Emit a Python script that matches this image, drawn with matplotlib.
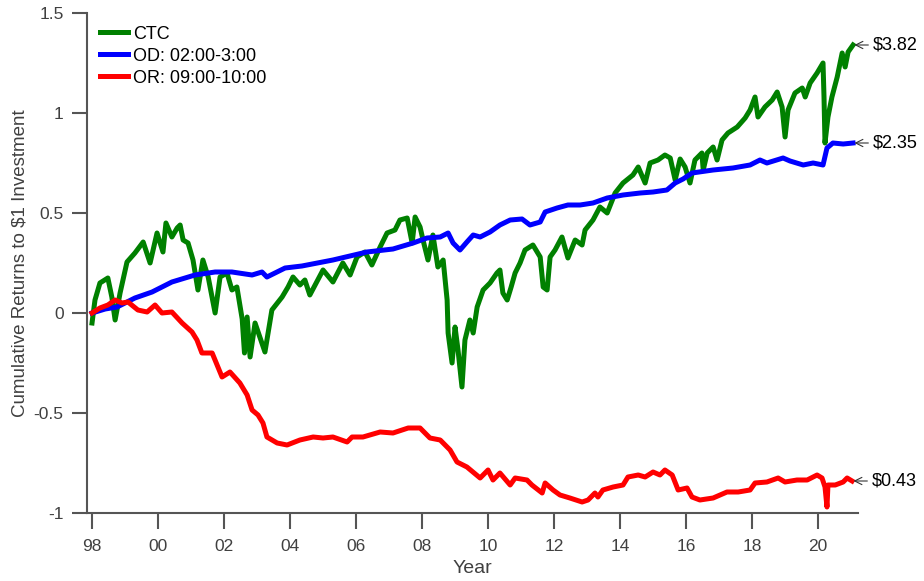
import numpy as np
import matplotlib
matplotlib.use("Agg")
import matplotlib.pyplot as plt

plt.rcParams['font.family'] = ['Liberation Sans', 'DejaVu Sans']

# CTC cumulative returns (year, value)
ctc_year = [1998.0, 1998.09, 1998.24, 1998.48, 1998.6, 1998.7, 1998.85, 1999.06, 1999.3, 1999.55,
            1999.76, 1999.97, 2000.15, 2000.24, 2000.42, 2000.58, 2000.67, 2000.76, 2000.91, 2001.06,
            2001.21, 2001.36, 2001.52, 2001.73, 2001.88, 2002.09, 2002.24, 2002.39, 2002.55, 2002.62,
            2002.7, 2002.79, 2002.94, 2003.24, 2003.45,
            2003.76, 2003.94, 2004.09, 2004.3, 2004.45, 2004.6, 2005.0, 2005.3, 2005.6, 2005.82,
            2006.03, 2006.27, 2006.48, 2006.73, 2006.94, 2007.18, 2007.33, 2007.55, 2007.7, 2007.79,
            2007.94, 2008.03, 2008.18, 2008.33, 2008.48, 2008.64, 2008.76, 2008.79, 2008.91, 2009.0,
            2009.09, 2009.21, 2009.3, 2009.45, 2009.55, 2009.67, 2009.85, 2010.06, 2010.27, 2010.36,
            2010.45, 2010.58, 2010.7, 2010.82, 2010.97, 2011.12, 2011.36, 2011.58, 2011.67, 2011.79,
            2011.88, 2012.03, 2012.24, 2012.42, 2012.64, 2012.85, 2012.94, 2013.18, 2013.39, 2013.61,
            2013.85, 2014.09, 2014.39, 2014.55, 2014.76, 2014.91, 2015.15, 2015.36, 2015.52, 2015.67,
            2015.82, 2015.97, 2016.12, 2016.27, 2016.48, 2016.52, 2016.64, 2016.82, 2016.94, 2017.09,
            2017.27, 2017.55, 2017.79, 2017.94, 2018.09, 2018.18, 2018.39, 2018.61, 2018.76, 2018.91,
            2019.0, 2019.09, 2019.3, 2019.52, 2019.61, 2019.76, 2019.97, 2020.15, 2020.18, 2020.21,
            2020.3, 2020.42, 2020.58, 2020.73, 2020.82, 2020.91, 2021.06]
ctc_val = [-0.05, 0.065, 0.15, 0.175, 0.08, -0.035, 0.10, 0.255, 0.30, 0.355,
           0.25, 0.40, 0.305, 0.45, 0.38, 0.425, 0.44, 0.365, 0.35, 0.265,
           0.115, 0.265, 0.18, 0.0, 0.18, 0.20, 0.115, 0.13, -0.03, -0.20,
           -0.02, -0.22, -0.05, -0.195, 0.015,
           0.08, 0.13, 0.18, 0.14, 0.165, 0.09, 0.215, 0.155, 0.25, 0.19,
           0.28, 0.305, 0.24, 0.33, 0.40, 0.415, 0.465, 0.475, 0.35, 0.48,
           0.43, 0.365, 0.265, 0.39, 0.23, 0.265, 0.065, -0.10, -0.25, -0.07,
           -0.185, -0.37, -0.135, -0.035, -0.10, 0.03, 0.115, 0.15, 0.20, 0.215,
           0.10, 0.065, 0.13, 0.20, 0.25, 0.315, 0.34, 0.28, 0.13, 0.115,
           0.28, 0.315, 0.38, 0.275, 0.365, 0.34, 0.415, 0.465, 0.53, 0.50,
           0.60, 0.65, 0.69, 0.73, 0.65, 0.75, 0.765, 0.79, 0.775, 0.665,
           0.77, 0.73, 0.65, 0.765, 0.80, 0.715, 0.80, 0.83, 0.765, 0.865,
           0.90, 0.93, 0.975, 1.015, 1.08, 0.98, 1.03, 1.065, 1.105, 1.03,
           0.88, 1.015, 1.10, 1.125, 1.08, 1.15, 1.20, 1.25, 1.08, 0.85,
           0.98, 1.08, 1.18, 1.30, 1.23, 1.305, 1.34]

# OD: 02:00-3:00
od_year = [1998.0, 1998.4, 1998.76, 1999.3, 1999.82, 2000.42, 2000.82, 2001.12, 2001.73, 2002.24,
           2002.85, 2003.15, 2003.3, 2003.85, 2004.36, 2005.3, 2006.33, 2007.12, 2007.73, 2008.15,
           2008.55, 2008.79, 2008.94, 2009.15, 2009.36, 2009.55, 2009.76, 2010.06, 2010.36, 2010.67,
           2011.03, 2011.27, 2011.58, 2011.73, 2012.09, 2012.42, 2012.79, 2013.18, 2013.61, 2014.09,
           2014.61, 2015.0, 2015.42, 2015.67, 2015.91, 2016.18, 2016.82, 2017.42, 2017.94, 2018.24,
           2018.45, 2018.94, 2019.15, 2019.55, 2019.85, 2020.15, 2020.27, 2020.45, 2020.76, 2021.06]
od_val = [0.0, 0.02, 0.03, 0.075, 0.105, 0.155, 0.175, 0.19, 0.205, 0.205,
          0.19, 0.205, 0.18, 0.225, 0.235, 0.265, 0.305, 0.32, 0.35, 0.375,
          0.38, 0.40, 0.35, 0.315, 0.355, 0.39, 0.38, 0.405, 0.44, 0.465,
          0.47, 0.44, 0.455, 0.505, 0.525, 0.54, 0.54, 0.55, 0.575, 0.59,
          0.60, 0.605, 0.615, 0.65, 0.67, 0.70, 0.715, 0.725, 0.74, 0.765,
          0.75, 0.775, 0.76, 0.74, 0.75, 0.74, 0.825, 0.85, 0.845, 0.85]

# OR: 09:00-10:00
or_year = [1998.0, 1998.24, 1998.48, 1998.7, 1998.91, 1999.09, 1999.39, 1999.67, 1999.91, 2000.12,
           2000.42, 2000.73, 2001.03, 2001.18, 2001.33, 2001.64, 2001.79, 2001.94, 2002.18, 2002.48,
           2002.7, 2002.85, 2003.03, 2003.18, 2003.3, 2003.61, 2003.91, 2004.3, 2004.7, 2005.0,
           2005.3, 2005.73, 2005.88, 2006.21, 2006.73, 2007.12, 2007.58, 2007.94, 2008.24, 2008.55,
           2008.85, 2009.06, 2009.36, 2009.76, 2010.0, 2010.15, 2010.36, 2010.67, 2010.82, 2011.18,
           2011.33, 2011.64, 2011.73, 2011.97, 2012.18, 2012.48, 2012.85, 2013.03, 2013.24, 2013.33,
           2013.48, 2013.79, 2014.09, 2014.24, 2014.55, 2014.76, 2015.0, 2015.21, 2015.36, 2015.58,
           2015.76, 2016.03, 2016.18, 2016.42, 2016.82, 2017.24, 2017.58, 2017.94, 2018.09, 2018.45,
           2018.79, 2019.0, 2019.36, 2019.67, 2019.97, 2020.12, 2020.21, 2020.27, 2020.3, 2020.52,
           2020.76, 2020.88, 2021.03]
or_val = [0.0, 0.025, 0.04, 0.065, 0.05, 0.055, 0.015, 0.005, 0.04, 0.0,
          0.005, -0.05, -0.095, -0.135, -0.20, -0.20, -0.26, -0.32, -0.295, -0.35,
          -0.41, -0.485, -0.51, -0.55, -0.62, -0.65, -0.66, -0.635, -0.62, -0.625,
          -0.62, -0.645, -0.62, -0.62, -0.595, -0.60, -0.575, -0.575, -0.625, -0.635,
          -0.685, -0.745, -0.77, -0.825, -0.785, -0.835, -0.80, -0.86, -0.825, -0.835,
          -0.86, -0.90, -0.85, -0.885, -0.91, -0.925, -0.945, -0.935, -0.90, -0.92,
          -0.885, -0.87, -0.86, -0.82, -0.81, -0.82, -0.795, -0.81, -0.785, -0.81,
          -0.885, -0.875, -0.92, -0.935, -0.925, -0.895, -0.895, -0.885, -0.85, -0.845,
          -0.825, -0.845, -0.835, -0.835, -0.81, -0.825, -0.87, -0.97, -0.86, -0.86,
          -0.845, -0.825, -0.84]

end_labels = ['$3.82', '$2.35', '$0.43']
tick_years = np.arange(1998, 2021, 2)
tick_labels = ['%02d' % (y % 100) for y in tick_years]

gray = '#404040'
axcol = '#555555'
fig = plt.figure(figsize=(9.24, 5.81), dpi=100)
ax = fig.add_axes([87 / 924, 68 / 581, 771 / 924, 500 / 581])

ax.plot(ctc_year, ctc_val, color='#008000', lw=3.6, label='CTC')
ax.plot(od_year, od_val, color='#0000ff', lw=3.6, label='OD: 02:00-3:00')
ax.plot(or_year, or_val, color='#ff0000', lw=3.6, label='OR: 09:00-10:00')

ax.set_xlim(1997.848, 2021.21)
ax.set_ylim(-1, 1.5)
ax.set_xticks(tick_years)
ax.set_xticklabels(tick_labels)
ax.set_yticks([-1, -0.5, 0, 0.5, 1, 1.5])
ax.set_yticklabels(['-1', '-0.5', '0', '0.5', '1', '1.5'])

for s in ['top', 'right']:
    ax.spines[s].set_visible(False)
for s in ['left', 'bottom']:
    ax.spines[s].set_color(axcol)
    ax.spines[s].set_linewidth(1.5)
ax.tick_params(axis='x', direction='out', length=11.5, width=1.5, color=axcol,
               labelsize=12.5, labelcolor=gray, pad=7)
ax.tick_params(axis='y', direction='out', length=10.8, width=1.5, color=axcol,
               labelsize=12.5, labelcolor=gray, pad=6)

ax.set_xlabel('Year', fontsize=14, color=gray)
ax.xaxis.set_label_coords(0.5, -0.094)
ax.set_ylabel(r'Cumulative Returns to \$1 Investment', fontsize=13.5, color=gray)
ax.yaxis.set_label_coords(-0.0765, 0.5)

ax.legend(loc='upper left', bbox_to_anchor=(0.0, 1.0), frameon=False, fontsize=13,
          handlelength=1.55, handletextpad=0.3, labelspacing=0.28, borderaxespad=0.4,
          borderpad=0.3)

ends = [(ctc_year[-1], ctc_val[-1]), (od_year[-1], od_val[-1]), (or_year[-1], or_val[-1])]
for (xe, ye), lab in zip(ends, end_labels):
    ax.annotate('\\' + lab, xy=(xe, ye), xytext=(14, 0), textcoords='offset points',
                fontsize=13, color='k', va='center', ha='left',
                arrowprops=dict(arrowstyle='->', color='#333333', lw=0.8,
                                shrinkA=1, shrinkB=1))

fig.savefig('out.png', dpi=100)
